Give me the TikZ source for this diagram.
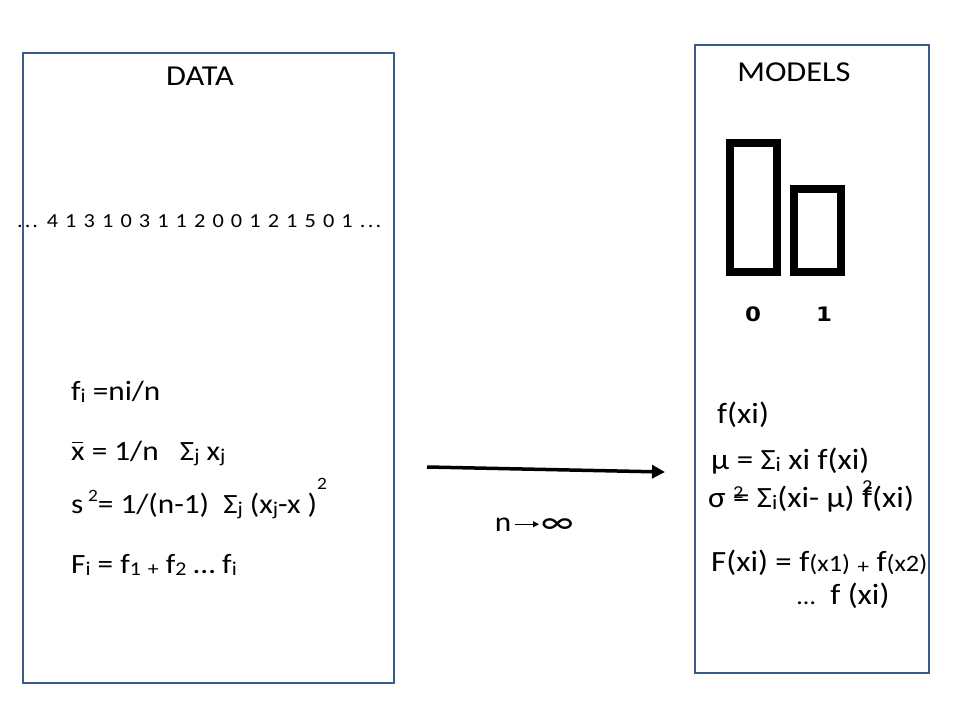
\documentclass[tikz,border=0pt]{standalone}
\usepackage{fontspec}
\setmainfont{Carlito}[FakeStretch=1.12]
\newfontfamily\tickfont{DejaVu Sans}[FakeStretch=1.15]
\usepackage{graphicx}
\usetikzlibrary{positioning,arrows.meta}
\definecolor{frameblue}{RGB}{56,93,138}
\newcommand{\lo}[1]{\raisebox{-0.08em}{\scalebox{0.7}{#1}}}
\newcommand{\md}[1]{\scalebox{0.8}{#1}}
\newcommand{\hi}[2]{\raisebox{#1}{\scalebox{0.62}{#2}}}
\newcommand{\xbar}{\rlap{\hspace{0.04em}\raisebox{0.6em}{\rule{0.38em}{0.06em}}}x}

\begin{document}
\begin{tikzpicture}[x=1bp,y=-1bp, frame/.style={draw=frameblue,line width=2.2bp,inner sep=0pt},
  bar/.style={draw=black,line width=8bp,inner sep=0pt,minimum width=47bp},
  title/.style={font=\fontsize{29}{32}\selectfont},
  eq/.style={anchor=base west,inner sep=0pt,font=\fontsize{28}{32}\selectfont},
  req/.style={eq,font=\fontsize{29.5}{32}\selectfont},
  tick/.style={font=\tickfont\bfseries\fontsize{20}{22}\selectfont}]
              \useasboundingbox (0,0) rectangle (960,720);
              \node[frame,minimum width=371bp,minimum height=630bp] (data) at (208.5,368) {};
              \node[frame,minimum width=234bp,minimum height=628bp] (models) at (812,359) {};

              \node[title] (datat) at (200,76) {DATA};
              \node[title] (modelst) at (794,72) {MODELS};

              \node[anchor=base west,inner sep=0pt,font=\fontsize{20}{22}\selectfont] (seq) at (17,227) {\spaceskip=7.1bp .\hspace{2bp}.\hspace{2bp}. 4 1 3 1 0 3 1 1 2 0 0 1 2 1 5 0 1 .\hspace{2.3bp}.\hspace{2.3bp}.};

              \node[bar,minimum height=129bp] (bar0) at (753.5,207.5) {};
              \node[bar,minimum height=83bp] (bar1) at (817,230.5) {};
              \node[tick] (t0) at (753,314) {0};
              \node[tick] (t1) at (824,314) {1};

              \node[eq] (fi) at (71,400) {f\lo{i} =ni/n};
              \node[eq] (mean) at (71,460) {\xbar\ = 1/n\ \ \ Σ\lo{j} x\lo{j}};
              \node[eq] (var) at (71,513) {s\,\hi{0.4em}{2}= 1/(n-1)\ \ Σ\lo{j} (x\lo{j}-x\ )\hi{0.85em}{2}};
              \node[eq] (cum) at (71,573) {F\lo{i} = f\lo{1} \lo{+} f\lo{2} … f\lo{i}};

              \node[req] (fx) at (717,423) {f(xi)};
              \node[req] (mu) at (711,469) {μ = Σ\lo{i} xi f(xi)};
              \node[req] (sigma) at (708,507) {σ \rlap{\hi{0.3em}{2}}= Σ\lo{i}(xi- μ) \rlap{\hi{0.5em}{2}}f(xi)};
              \node[req] (cdf) at (711,571) {F(xi) = f\md{(x1)} \lo{+} f\md{(x2)}};
              \node[req] (cdf2) at (797,604) {\md{…}\ \ f (xi)};

              \coordinate (tail) at (427,467);
              \coordinate (head) at (665,472);
              \draw[line width=3.5bp,-{Triangle[length=13bp,width=13bp]}] (tail) -- (head);

              \node[anchor=base,inner sep=0pt,font=\fontsize{28}{32}\selectfont] (n) at (503,531) {n};
              \node[anchor=base west,inner sep=0pt,font=\fontsize{34}{40}\selectfont] (inf) at (541,533) {∞};
              \draw[line width=1bp,-{Triangle[length=6bp,width=6bp]},shorten <=4bp,shorten >=2bp] (n.east) -- (n.east -| inf.west);
            \end{tikzpicture}
\end{document}
